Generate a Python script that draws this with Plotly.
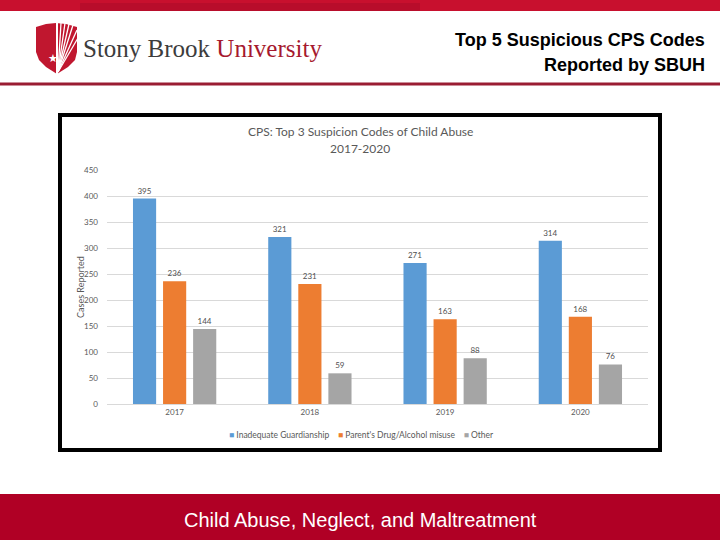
import plotly.graph_objects as go

years = ["2017", "2018", "2019", "2020"]
inadequate = [395, 321, 271, 314]
drug_alcohol = [236, 231, 163, 168]
other = [144, 59, 88, 76]
series_names = ["Inadequate Guardianship", "Parent's Drug/Alcohol misuse", "Other"]
series_colors = ["#5B9BD5", "#ED7D31", "#A5A5A5"]
y_ticks = [0, 50, 100, 150, 200, 250, 300, 350, 400, 450]

W, H = 720, 540
def px(x):
    return x / W
def py(y):
    return 1 - y / H

CHART_FONT = "Lato, 'Open Sans', sans-serif"

fig = go.Figure()
for name, vals, col in zip(series_names, [inadequate, drug_alcohol, other], series_colors):
    fig.add_trace(go.Bar(
        x=years, y=vals, name=name, marker_color=col, marker_line_width=0,
        text=[str(v) for v in vals], textposition="outside",
        textfont=dict(size=8, color="#505050", family=CHART_FONT),
        cliponaxis=False, showlegend=False,
    ))

shapes = []
shapes.append(dict(type="rect", xref="paper", yref="paper", x0=0, x1=1, y0=py(11), y1=1,
                   fillcolor="#C8102E", line_width=0, layer="below"))
shapes.append(dict(type="rect", xref="paper", yref="paper", x0=px(80), x1=px(420), y0=py(11), y1=py(3),
                   fillcolor="#B80D2B", line_width=0, layer="below"))
shapes.append(dict(type="line", xref="paper", yref="paper", x0=0, x1=1, y0=py(84), y1=py(84),
                   line=dict(color="#9A1C32", width=3)))
shapes.append(dict(type="rect", xref="paper", yref="paper", x0=px(60), x1=px(660), y0=py(450), y1=py(115),
                   line=dict(color="#000000", width=4), fillcolor="rgba(0,0,0,0)"))
shapes.append(dict(type="rect", xref="paper", yref="paper", x0=0, x1=1, y0=0, y1=py(494),
                   fillcolor="#B00025", line_width=0, layer="below"))

def pth(points, close=True):
    s = ""
    for i, (x, y) in enumerate(points):
        s += ("M" if i == 0 else "L") + f"{px(x):.5f},{py(y):.5f} "
    return s + ("Z" if close else "")

shield = [(36, 27), (46, 24), (56, 23), (66, 24), (77, 27), (77, 52), (75, 60), (68, 67), (57, 74),
          (46, 67), (39, 60), (36, 52)]
shapes.append(dict(type="path", xref="paper", yref="paper", path=pth(shield),
                   fillcolor="#C0172F", line_width=0))
shapes.append(dict(type="line", xref="paper", yref="paper", x0=px(57), x1=px(57), y0=py(23), y1=py(74),
                   line=dict(color="white", width=2)))
for tx, ty in [(61, 23), (65, 23), (69, 24), (73, 25), (77, 30), (78, 38)]:
    shapes.append(dict(type="line", xref="paper", yref="paper", x0=px(58), y0=py(72), x1=px(tx), y1=py(ty),
                       line=dict(color="white", width=1.3)))

legend_text = "&nbsp;&nbsp;&nbsp;&nbsp;".join(
    f"<span style='color:{c}'>■</span> {n}" for n, c in zip(series_names, series_colors))

annotations = [
    dict(text="★", x=px(46), y=py(48), xref="paper", yref="paper", showarrow=False,
         font=dict(size=11, color="white")),
    dict(text="Stony Brook <span style='color:#A6192E'>University</span>", x=px(81), y=py(48),
         xref="paper", yref="paper", xanchor="left", yanchor="middle", showarrow=False,
         font=dict(size=25, color="#3C3C3C", family="Liberation Serif, serif")),
    dict(text="<b>Top 5 Suspicious CPS Codes</b>", x=px(707), y=py(40), xref="paper", yref="paper",
         xanchor="right", yanchor="middle", showarrow=False,
         font=dict(size=18, color="#000000", family="Liberation Sans, Arial, sans-serif")),
    dict(text="<b>Reported by SBUH</b>", x=px(707), y=py(65), xref="paper", yref="paper",
         xanchor="right", yanchor="middle", showarrow=False,
         font=dict(size=18, color="#000000", family="Liberation Sans, Arial, sans-serif")),
    dict(text="CPS: Top 3 Suspicion Codes of Child Abuse", x=px(360), y=py(131), xref="paper", yref="paper",
         xanchor="center", yanchor="middle", showarrow=False,
         font=dict(size=12, color="#595959", family=CHART_FONT)),
    dict(text="2017-2020", x=px(360), y=py(148), xref="paper", yref="paper",
         xanchor="center", yanchor="middle", showarrow=False,
         font=dict(size=12, color="#595959", family=CHART_FONT)),
    dict(text="Cases Reported", x=px(80), y=py(287), xref="paper", yref="paper", textangle=-90,
         xanchor="center", yanchor="middle", showarrow=False,
         font=dict(size=9, color="#595959", family=CHART_FONT)),
    dict(text=legend_text, x=px(361), y=py(435), xref="paper", yref="paper",
         xanchor="center", yanchor="middle", showarrow=False,
         font=dict(size=8.5, color="#595959", family=CHART_FONT)),
    dict(text="Child Abuse, Neglect, and Maltreatment", x=px(360), y=py(520), xref="paper", yref="paper",
         xanchor="center", yanchor="middle", showarrow=False,
         font=dict(size=20, color="white", family="Liberation Sans, Arial, sans-serif")),
]

fig.update_layout(
    width=W, height=H, margin=dict(l=0, r=0, t=0, b=0, pad=0, autoexpand=False),
    paper_bgcolor="white", plot_bgcolor="white",
    barmode="group", bargap=0.333, bargroupgap=0.23,
    shapes=shapes, annotations=annotations,
    showlegend=False,
    xaxis=dict(domain=[px(107), px(648)], showline=True, linecolor="#D9D9D9", linewidth=1,
               ticks="", tickfont=dict(size=8, color="#595959", family=CHART_FONT),
               showgrid=False, fixedrange=True, automargin=False),
    yaxis=dict(domain=[py(404), py(170)], range=[0, 450], tickvals=y_ticks,
               showgrid=True, gridcolor="#D9D9D9", gridwidth=1, zeroline=False,
               showline=False, ticks="", ticklabelstandoff=8, automargin=False,
               tickfont=dict(size=8, color="#595959", family=CHART_FONT), fixedrange=True),
)

post = "document.body.style.margin='0';document.body.style.padding='0';"
fig.write_html("out.html", config={"displayModeBar": False}, post_script=post)
